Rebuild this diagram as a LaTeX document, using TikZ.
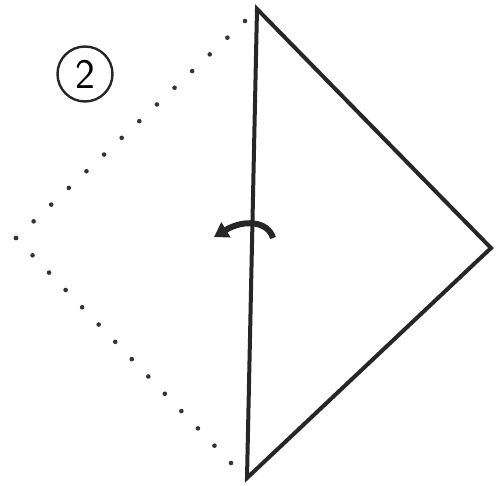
\documentclass[tikz,border=0pt]{standalone}
\usetikzlibrary{arrows.meta,calc}
\begin{document}
\begin{tikzpicture}[x=1pt,y=-1pt,
  solidedge/.style={line width=4pt,line join=miter,draw=black!85},
  dotmark/.style={fill=black!80},
  foldarrow/.style={line width=6pt,draw=black!85,-{Triangle[length=14pt,width=17pt]}}]
\useasboundingbox (0,0) rectangle (497,486);
\coordinate (T) at (257,9);
\coordinate (B) at (247,478);
\coordinate (R) at (491,248);
\coordinate (L) at (16,238);
\coordinate (DT) at (245,21);
\coordinate (DB) at (231,463);
\draw[solidedge] (T) -- (R) -- (B) -- cycle;
\foreach \i in {0,...,13} {
  \fill[dotmark] ($(L)!\i/13!(DT)$) circle (2.3pt);
  \fill[dotmark] ($(L)!\i/13!(DB)$) circle (2.3pt);
}
\node[circle,draw=black!85,line width=2.4pt,minimum size=55pt,inner sep=0pt,font=\sffamily\fontsize{42}{42}\selectfont] (num) at (85,74) {2};
\coordinate (a1) at (273,238);
\coordinate (a2) at (214,237);
\draw[foldarrow] (a1) .. controls (268,221) and (244,219) .. (a2);
\end{tikzpicture}
\end{document}
